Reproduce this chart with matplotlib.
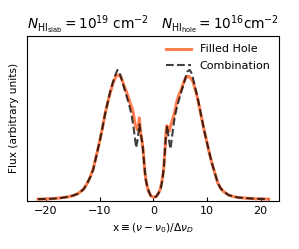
import matplotlib
matplotlib.use('Agg')
import matplotlib.pyplot as plt

# Combination (dashed)
x_comb = [-21.5, -19, -17.5, -16, -15, -14, -13, -12.4, -11.8, -11.2, -10.5, -10, -9.5, -9,
          -8.5, -8, -7.5, -7, -6.7, -6.4, -6, -5.5, -5, -4.5, -4, -3.6, -3.2, -2.9, -2.6,
          -2.3, -2.0, -1.7, -1.4, -1.0, -0.5, 0, 0.5, 1.0, 1.4, 1.7, 2.0, 2.3, 2.6, 2.9,
          3.2, 3.6, 4, 4.5, 5, 5.5, 6, 6.4, 6.8, 7.2, 7.6, 8, 8.5, 9, 9.5, 10, 10.5, 11,
          11.5, 12, 12.5, 13, 14, 15, 16, 17.5, 19, 21.5]
y_comb = [0.003, 0.006, 0.01, 0.02, 0.03, 0.045, 0.08, 0.12, 0.17, 0.23, 0.36, 0.45, 0.55, 0.66,
          0.75, 0.84, 0.91, 0.97, 1.0, 0.99, 0.94, 0.87, 0.80, 0.73, 0.64, 0.53, 0.40, 0.47, 0.58,
          0.50, 0.42, 0.27, 0.15, 0.08, 0.03, 0.018, 0.022, 0.05, 0.09, 0.15, 0.27, 0.47, 0.57, 0.46,
          0.39, 0.52, 0.64, 0.73, 0.80, 0.87, 0.94, 0.99, 1.0, 0.97, 0.90, 0.83, 0.74, 0.63, 0.53, 0.44, 0.35, 0.27,
          0.20, 0.13, 0.09, 0.065, 0.035, 0.022, 0.015, 0.01, 0.006, 0.003]

# Filled Hole (solid)
x_fill = [-21.5, -19, -17.5, -16, -15, -14, -13, -12.4, -11.8, -11.2, -10.5, -10, -9.5, -9,
          -8.5, -8, -7.5, -7.0, -6.7, -6.4, -6.1, -5.8, -5.4, -5.0, -4.6, -4.3, -4.0, -3.7,
          -3.4, -3.0, -2.75, -2.6, -2.4, -2.1, -1.9, -1.55, -1.2, -0.9, -0.5, 0, 0.5, 0.9, 1.3,
          1.6, 1.9, 2.2, 2.4, 2.5, 2.75, 3.0, 3.3, 3.7, 4.0, 4.4, 4.8, 5.3, 5.7, 6.2, 6.6, 7.1, 7.4,
          7.8, 8.2, 8.6, 9, 9.5, 10, 10.5, 11, 11.5, 12, 12.5, 13, 14, 15, 16, 17.5, 19, 21.5]
y_fill = [0.003, 0.006, 0.012, 0.02, 0.03, 0.047, 0.08, 0.12, 0.17, 0.24, 0.36, 0.45, 0.55, 0.66,
          0.75, 0.83, 0.90, 0.95, 0.96, 0.955, 0.95, 0.92, 0.87, 0.83, 0.78, 0.74, 0.71, 0.66,
          0.58, 0.54, 0.58, 0.63, 0.52, 0.45, 0.38, 0.20, 0.11, 0.065, 0.03, 0.018, 0.022, 0.045, 0.08,
          0.14, 0.22, 0.40, 0.53, 0.57, 0.55, 0.53, 0.58, 0.63, 0.68, 0.76, 0.81, 0.86, 0.91, 0.95, 0.95,
          0.93, 0.91, 0.85, 0.79, 0.71, 0.63, 0.53, 0.44, 0.35, 0.27, 0.20, 0.13, 0.09, 0.065, 0.035,
          0.022, 0.015, 0.01, 0.006, 0.003]

fig = plt.figure(figsize=(2.99, 2.49), dpi=100)
ax = fig.add_axes([0.0913, 0.194, 0.843, 0.663])

ax.plot(x_fill, y_fill, color='#ff7f50', lw=2.2, label='Filled Hole')
ax.plot(x_comb, y_comb, color='k', alpha=0.75, lw=1.5, ls='--', label='Combination')

ax.set_xlim(-23.5, 23.5)
ax.set_ylim(-0.009, 1.265)
ax.set_yticks([])
ax.set_xticks([-20, -10, 0, 10, 20])
ax.tick_params(axis='x', direction='in', labelsize=8, length=3, pad=4)

ax.set_xlabel(r'x$\equiv(\nu-\nu_0)/\Delta\nu_D$', fontsize=7.7, labelpad=3.5)
ax.set_ylabel('Flux (arbitrary units)', fontsize=7.7, labelpad=6)
ax.set_title(r'$N_{\rm HI_{slab}}=10^{19}$ cm$^{-2}$   $N_{\rm HI_{hole}}=10^{16}$cm$^{-2}$',
             fontsize=9.8, pad=5)
ax.legend(loc='upper right', frameon=False, fontsize=8, handlelength=2.2,
          borderaxespad=0.4, labelspacing=0.6)

fig.savefig('out.png', dpi=100)
